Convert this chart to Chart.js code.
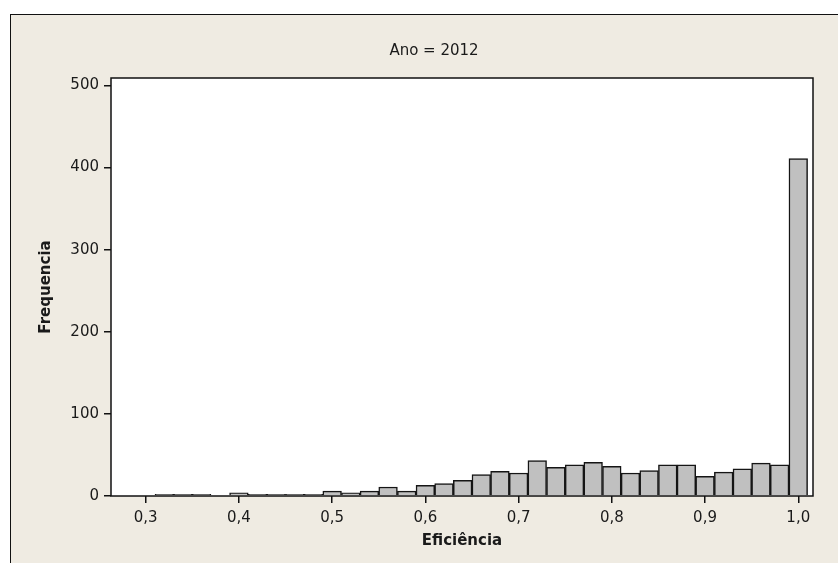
<!DOCTYPE html>
<html>
<head>
<meta charset="utf-8">
<script src="https://cdn.jsdelivr.net/npm/chart.js@4"></script>
<style>
  html, body { margin: 0; padding: 0; background: #fff; overflow: hidden; }
  #painel {
    position: absolute; left: 10px; top: 14px; width: 860px; height: 600px;
    background: #efebe2; border-left: 1px solid #111; border-top: 1px solid #111;
  }
  #grafico { position: absolute; left: 0; top: 0; }
</style>
</head>
<body>
<div id="painel"></div>
<canvas id="grafico" width="838" height="563"></canvas>
<script>
// histograma da eficiencia, ano 2012 (centro de cada classe, largura 0,02)
var titulo = 'Ano = 2012';
var centros = [0.30, 0.32, 0.34, 0.36, 0.38, 0.40, 0.42, 0.44, 0.46, 0.48,
               0.50, 0.52, 0.54, 0.56, 0.58, 0.60, 0.62, 0.64, 0.66, 0.68,
               0.70, 0.72, 0.74, 0.76, 0.78, 0.80, 0.82, 0.84, 0.86, 0.88,
               0.90, 0.92, 0.94, 0.96, 0.98, 1.00];
var frequencias = [0, 2, 2, 2, 0, 4, 2, 2, 2, 2,
                   6, 4, 6, 11, 6, 13, 15, 19, 26, 30,
                   28, 43, 35, 38, 41, 36, 28, 31, 38, 38,
                   24, 29, 33, 40, 38, 411];
var ticks_x = [0.3, 0.4, 0.5, 0.6, 0.7, 0.8, 0.9, 1.0];
var ticks_y = [0, 100, 200, 300, 400, 500];

var pontos = [];
var i = 0;
while (i < centros.length) {
    pontos.push({x: centros[i], y: frequencias[i]});
    i++;
}

Chart.defaults.font.family = "'DejaVu Sans', sans-serif";
Chart.defaults.font.size = 15;
Chart.defaults.color = '#1a1a1a';

// fundo branco e moldura da area do grafico, mais o titulo
var moldura = {
    id: 'moldura',
    beforeDraw: function(chart) {
        var a = chart.chartArea;
        var c = chart.ctx;
        c.save();
        c.fillStyle = '#ffffff';
        c.fillRect(a.left, a.top, a.right - a.left, a.bottom - a.top);
        c.restore();
    },
    afterDatasetsDraw: function(chart) {
        var a = chart.chartArea;
        var c = chart.ctx;
        c.save();
        c.strokeStyle = '#111';
        c.lineWidth = 1.5;
        c.strokeRect(a.left, a.top, a.right - a.left, a.bottom - a.top);
        c.fillStyle = '#1a1a1a';
        c.font = "15px 'DejaVu Sans', sans-serif";
        c.textAlign = 'center';
        c.textBaseline = 'middle';
        c.fillText(titulo, 434, 51);
        c.restore();
    }
};

const ctx = document.getElementById('grafico');
const myChart = new Chart(ctx, {
    type: 'bar',
    data: {
        datasets: [{
            label: 'Frequencia',
            data: pontos,
            backgroundColor: '#c0c0c0',
            borderColor: '#151515',
            borderWidth: 1.5,
            barPercentage: 1,
            categoryPercentage: 1
        }]
    },
    options: {
        responsive: false,
        animation: false,
        devicePixelRatio: 1,
        layout: { padding: { top: 78, right: 25, left: 0, bottom: 0 } },
        plugins: {
            legend: { display: false },
            title: { display: false },
            tooltip: { enabled: false }
        },
        scales: {
            x: {
                type: 'linear',
                offset: false,
                min: 0.2628,
                max: 1.0158,
                afterBuildTicks: function(scale) {
                    scale.ticks = ticks_x.map(function(v) { return {value: v}; });
                },
                afterFit: function(scale) { scale.height = 67; },
                grid: { offset: false, drawOnChartArea: false, tickLength: 7, color: '#111', lineWidth: 1.5 },
                border: { display: false },
                ticks: {
                    padding: 6,
                    maxRotation: 0,
                    callback: function(v) { return v.toFixed(1).replace('.', ','); }
                },
                title: {
                    display: true,
                    text: 'Eficiência',
                    font: { weight: 'bold', size: 15 },
                    padding: { top: 4, bottom: 13 }
                }
            },
            y: {
                min: 0,
                max: 509,
                afterBuildTicks: function(scale) {
                    scale.ticks = ticks_y.map(function(v) { return {value: v}; });
                },
                afterFit: function(scale) { scale.width = 111; },
                grid: { drawOnChartArea: false, tickLength: 7, color: '#111', lineWidth: 1.5 },
                border: { display: false },
                ticks: { padding: 5 },
                title: {
                    display: true,
                    text: 'Frequencia',
                    font: { weight: 'bold', size: 15 },
                    padding: { top: 37, bottom: 4 }
                }
            }
        }
    },
    plugins: [moldura]
});
</script>
</body>
</html>
